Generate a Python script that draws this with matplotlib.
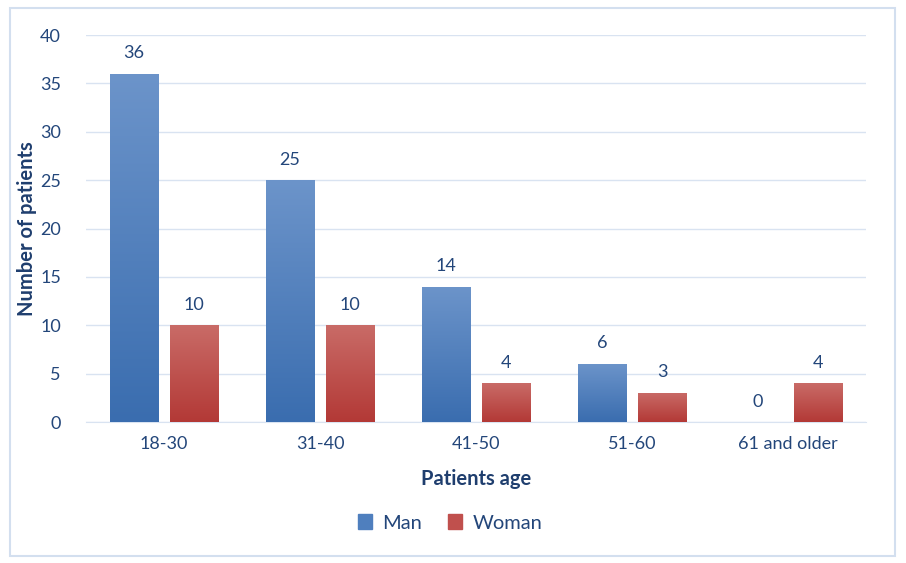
import matplotlib.pyplot as plt
import numpy as np
from matplotlib.patches import Rectangle

# Dados
idades = ["18-30", "31-40", "41-50", "51-60", "61 and older"]
homens = [36, 25, 14, 6, 0]
mulheres = [10, 10, 4, 3, 4]

plt.rcParams['font.family'] = ['Lato', 'DejaVu Sans']
cor_texto = "#23467A"

fig = plt.figure(figsize=(9.06, 5.63), dpi=100)
ax = fig.add_axes([0.0949, 0.2504, 0.861, 0.6874])

# moldura externa
fig.patches.append(Rectangle((10/906, 1 - 556/563), 885/906, 548/563, transform=fig.transFigure,
                             fill=False, edgecolor="#D3DFEF", lw=1.5))

x = np.arange(len(idades))
w = 0.308
gap = 0.077


def barras_gradiente(xs, vals, topo, base):
    barras = ax.bar(xs, vals, width=w, color=base, zorder=2)
    grad = np.linspace(0, 1, 256).reshape(-1, 1)
    cmap = plt.matplotlib.colors.LinearSegmentedColormap.from_list("g", [base, topo])
    for b in barras:
        if b.get_height() <= 0:
            continue
        x0, y0 = b.get_x(), b.get_y()
        im = ax.imshow(grad, extent=[x0, x0 + b.get_width(), y0, y0 + b.get_height()],
                       origin="lower", cmap=cmap, aspect="auto", zorder=3)
        im.set_clip_path(b)
    return barras


xm = x - (w + gap) / 2
xw = x + (w + gap) / 2
barras_gradiente(xm, homens, "#6C94CA", "#3A6DAF")
barras_gradiente(xw, mulheres, "#C96B67", "#B33936")

# Texto no gráfico
for a, h, m in zip(range(len(x)), homens, mulheres):
    ax.annotate(str(h), (xm[a], h), xytext=(0, 9), textcoords="offset points",
                ha="center", va="bottom", fontsize=13, color=cor_texto)
    ax.annotate(str(m), (xw[a], m), xytext=(0, 9), textcoords="offset points",
                ha="center", va="bottom", fontsize=13, color=cor_texto)

ax.set_xlim(-0.5, len(idades) - 0.5)
ax.set_ylim(0, 40)
ax.set_yticks(range(0, 41, 5))
ax.set_xticks(x)
ax.set_xticklabels(idades)
ax.yaxis.grid(True, color="#D9E3F1", lw=1)
ax.set_axisbelow(True)
for s in ["top", "right", "left"]:
    ax.spines[s].set_visible(False)
ax.spines["bottom"].set_color("#D9E3F1")
ax.tick_params(length=0, labelsize=13, labelcolor=cor_texto, pad=10)
ax.tick_params(axis="y", pad=18)

ax.set_xlabel("Patients age", fontsize=14.5, fontweight="bold", color="#1F3E6E", labelpad=12)
ax.set_ylabel("Number of patients", fontsize=14.5, fontweight="bold", color="#1F3E6E", labelpad=2)

h1 = Rectangle((0, 0), 1, 1, color="#4F7FBE")
h2 = Rectangle((0, 0), 1, 1, color="#C0504D")
fig.legend([h1, h2], ["Man", "Woman"], loc="center", bbox_to_anchor=(0.497, 1 - 523/563),
           ncol=2, frameon=False, fontsize=14.5, labelcolor=cor_texto,
           handlelength=0.7, handleheight=0.7, handletextpad=0.5, columnspacing=1.3)

plt.savefig("out.png", dpi=100)
